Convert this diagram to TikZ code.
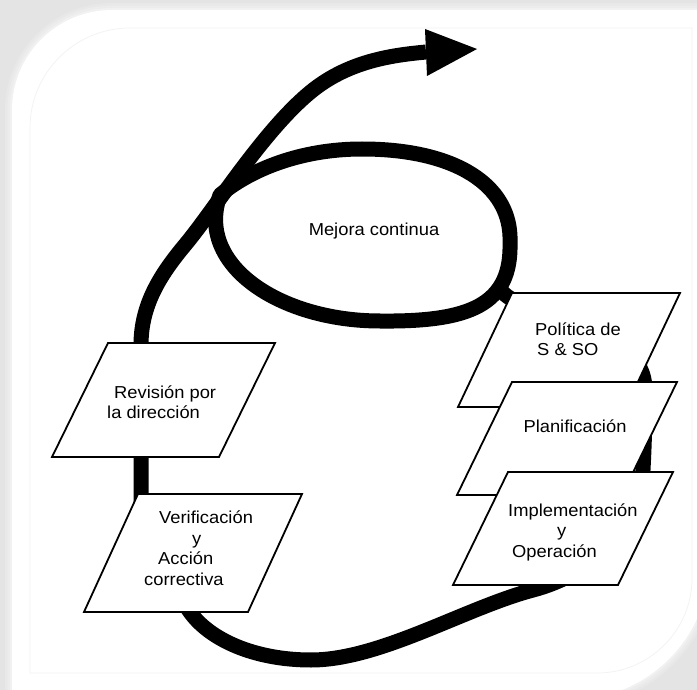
\documentclass[tikz,border=0pt]{standalone}
\usepackage{fontspec}
\setmainfont{Liberation Sans}[FakeStretch=1.06]
\begin{document}
\begin{tikzpicture}[x=1pt,y=-1pt,
  band/.style={line width=15pt, line cap=butt, line join=round},
  boxline/.style={draw=black, fill=white, line width=1.8pt, line join=miter},
  lbl/.style={inner sep=0pt, font=\fontsize{17.3}{20.5}\selectfont, align=left},
]
\useasboundingbox (0,0) rectangle (697,690);

% grey backdrop and white card with a soft edge
\fill[gray!21] (0,0) rectangle (697,690);
\def\cardpath{(12,700) -- (12,110) .. controls (12,54.8) and (56.8,10) .. (112,10) -- (710,10) -- (710,560) .. controls (710,637.3) and (647.3,700) .. (570,700) -- cycle}
\foreach \w/\o in {14/0.15,9/0.2,4/0.3}
  \draw[white, line width=\w pt, opacity=\o] \cardpath;
\fill[white] \cardpath;

% thin inner frame
\draw[gray!10, line width=0.7pt] (30,673) -- (30,128) .. controls (30,72.8) and (74.8,28) .. (130,28)
  -- (692,28) -- (692,578) .. controls (692,630.5) and (649.5,673) .. (597,673) -- cycle;

% named points of the spiral
\coordinate (tip)    at (220,195);
\coordinate (ltop)   at (362,149);
\coordinate (lright) at (510,242);
\coordinate (lbot)   at (380,321);
\coordinate (rjoin)  at (500,289);
\coordinate (rside)  at (645,390);
\coordinate (rlow)   at (643,470);
\coordinate (bend)   at (533,590);
\coordinate (bbot)   at (311,660);
\coordinate (bleft)  at (190,612);
\coordinate (lside)  at (141,494);
\coordinate (lup)    at (141,345);
\coordinate (lcurve) at (185,245);
\coordinate (arcmid) at (313,90);
\coordinate (shaft)  at (426,52);

% inner loop around the label
\draw[band] (tip) .. controls (250,170) and (300,149) .. (ltop)
  .. controls (455,149) and (512,185) .. (lright)
  .. controls (512,305) and (470,322) .. (lbot)
  .. controls (280,321) and (195,265) .. (tip) -- cycle;

% outer turn of the spiral ending in the arrow
\draw[band] (rjoin) .. controls (520,320) and (645,320) .. (rside)
  .. controls (645,430) and (644,450) .. (rlow)
  .. controls (642,530) and (590,575) .. (bend)
  .. controls (465,608) and (380,660) .. (bbot)
  .. controls (255,660) and (210,640) .. (bleft)
  .. controls (170,584) and (141,540) .. (lside)
  -- (lup)
  .. controls (141,305) and (160,275) .. (lcurve)
  .. controls (215,209) and (265,128) .. (arcmid)
  .. controls (351,60) and (395,55) .. (shaft);
\fill (425,29) -- (477,49) -- (427,76) -- cycle;

% process boxes (top-left corner, width, height, slant)
\newcommand{\pgram}[4]{\filldraw[boxline] #1 -- ++(#2,0) -- ++(-#4,#3) -- ++(-#2,0) -- cycle;}
\pgram{(512,293)}{168}{114}{54}
\pgram{(512,382)}{165}{113}{55}
\pgram{(508,472)}{165}{113}{55}
\pgram{(108,343)}{167}{114}{56}
\pgram{(138,494)}{164}{118}{54}

% labels
\node[lbl] (mejora) at (374,231) {Mejora continua};
\node[lbl, anchor=west] (politica) at (535,339) {Política de\\\hspace*{2pt}S \& SO};
\node[lbl] (planif) at (575,426) {Planificación};
\node[lbl, anchor=west] (implem) at (508,532) {Implementación\\\hspace*{49pt}y\\\hspace*{4pt}Operación};
\node[lbl, anchor=west] (revision) at (107,402) {\hspace*{7pt}Revisión por\\la dirección};
\node[lbl, anchor=west] (verif) at (144,548) {\hspace*{15pt}Verificación\\\hspace*{48pt}y\\\hspace*{14pt}Acción\\correctiva};
\end{tikzpicture}
\end{document}
